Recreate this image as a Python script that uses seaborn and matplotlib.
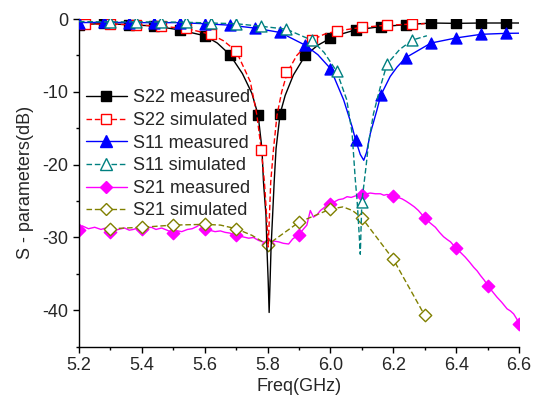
import matplotlib
matplotlib.use("Agg")
import matplotlib.pyplot as plt
from matplotlib.lines import Line2D
from matplotlib.ticker import MultipleLocator
import seaborn as sns
import pandas as pd

# ---------------- data ----------------
# S22 measured
s22m_mf = [5.20, 5.28, 5.36, 5.44, 5.52, 5.60, 5.68, 5.77, 5.84, 5.92, 6.00, 6.08, 6.16, 6.24, 6.32, 6.40, 6.48, 6.56]
s22m_md = [-0.8, -0.6, -0.8, -0.95, -1.5, -2.3, -4.9, -13.2, -13.0, -5.0, -2.65, -1.5, -1.05, -0.78, -0.55, -0.6, -0.55, -0.55]
s22m_lf = [5.20, 5.28, 5.36, 5.44, 5.52, 5.60, 5.64, 5.68, 5.72, 5.75, 5.77, 5.782, 5.787, 5.795, 5.798, 5.802, 5.805,
           5.808, 5.811, 5.816, 5.821, 5.827, 5.84, 5.856, 5.882, 5.92, 5.96, 6.00, 6.04, 6.08, 6.16, 6.24, 6.32, 6.40, 6.48, 6.56, 6.60]
s22m_ld = [-0.8, -0.6, -0.8, -0.95, -1.5, -2.3, -3.3, -4.9, -7.5, -10.2, -13.2, -17.8, -22.4, -27.0, -31.5, -36.0, -40.3,
           -36.0, -31.5, -27.0, -22.4, -17.8, -13.0, -10.5, -7.7, -5.0, -3.6, -2.65, -2.0, -1.5, -1.05, -0.78, -0.55, -0.6, -0.55, -0.55, -0.55]

# S22 simulated
s22s_mf = [5.22, 5.30, 5.38, 5.46, 5.54, 5.62, 5.70, 5.78, 5.86, 5.94, 6.02, 6.10, 6.18, 6.26]
s22s_md = [-0.7, -0.7, -0.8, -1.0, -1.3, -2.1, -4.4, -18.0, -7.3, -2.9, -1.65, -1.15, -0.85, -0.7]
s22s_lf = [5.20, 5.22, 5.30, 5.38, 5.46, 5.54, 5.62, 5.66, 5.70, 5.745, 5.766, 5.78, 5.79, 5.797, 5.802,
           5.806, 5.81, 5.819, 5.83, 5.845, 5.863, 5.893, 5.94, 5.98, 6.02, 6.10, 6.18, 6.26, 6.30]
s22s_ld = [-0.7, -0.7, -0.7, -0.8, -1.0, -1.3, -2.1, -3.0, -4.4, -8.6, -13.2, -18.0, -22.4, -27.0, -31.3,
           -27.0, -22.4, -17.8, -13.2, -10.0, -7.3, -5.0, -2.9, -2.1, -1.65, -1.15, -0.85, -0.7, -0.65]

# S11 measured
s11m_mf = [5.20, 5.28, 5.36, 5.44, 5.52, 5.60, 5.68, 5.76, 5.84, 5.92, 6.00, 6.08, 6.16, 6.24, 6.32, 6.40, 6.48, 6.56]
s11m_md = [-0.5, -0.45, -0.5, -0.5, -0.5, -0.65, -0.85, -1.25, -1.85, -3.6, -6.8, -16.6, -10.5, -5.3, -3.3, -2.6, -2.1, -1.97]
s11m_lf = [5.20, 5.28, 5.36, 5.44, 5.52, 5.60, 5.68, 5.76, 5.84, 5.92, 5.96, 6.00, 6.042, 6.069, 6.08, 6.095, 6.106,
           6.115, 6.127, 6.148, 6.16, 6.19, 6.212, 6.24, 6.32, 6.40, 6.48, 6.56, 6.60]
s11m_ld = [-0.5, -0.45, -0.5, -0.5, -0.5, -0.65, -0.85, -1.25, -1.85, -3.6, -4.9, -6.8, -11.1, -14.8, -16.6, -18.6, -19.4,
           -18.3, -15.7, -12.5, -10.5, -7.9, -6.6, -5.3, -3.3, -2.6, -2.1, -1.97, -1.95]

# S11 simulated
s11s_mf = [5.30, 5.38, 5.46, 5.54, 5.62, 5.70, 5.78, 5.86, 5.94, 6.02, 6.10, 6.18, 6.26]
s11s_md = [-0.4, -0.4, -0.4, -0.45, -0.55, -0.65, -1.0, -1.4, -2.9, -7.2, -25.1, -6.2, -2.9]
s11s_lf = [5.20, 5.30, 5.38, 5.46, 5.54, 5.62, 5.70, 5.78, 5.86, 5.94, 5.98, 6.02, 6.052, 6.069, 6.079, 6.085, 6.09, 6.095,
           6.10, 6.114, 6.121, 6.137, 6.159, 6.18, 6.22, 6.26, 6.307]
s11s_ld = [-0.35, -0.4, -0.4, -0.4, -0.45, -0.55, -0.65, -1.0, -1.4, -2.9, -4.6, -7.2, -11.1, -15.7, -22.0, -25.0, -28.5, -32.3,
           -25.1, -20.0, -17.1, -13.0, -9.3, -6.2, -4.2, -2.9, -2.3]

# S21 measured
s21m_mf = [5.20, 5.30, 5.40, 5.50, 5.60, 5.70, 5.80, 5.90, 6.00, 6.10, 6.20, 6.30, 6.40, 6.50, 6.60]
s21m_md = [-29.0, -29.3, -28.9, -29.4, -28.9, -29.7, -30.9, -29.6, -25.4, -24.1, -24.3, -27.3, -31.5, -36.6, -41.9]
s21m_lf = [5.20, 5.21, 5.23, 5.25, 5.27, 5.285, 5.30, 5.325, 5.345, 5.36, 5.373, 5.385, 5.40, 5.415, 5.43, 5.445,
           5.463, 5.48, 5.50, 5.515, 5.527, 5.545, 5.56, 5.575, 5.585, 5.60, 5.615, 5.633, 5.65, 5.665, 5.68, 5.70,
           5.72, 5.74, 5.755, 5.771, 5.785, 5.803, 5.82, 5.835, 5.85, 5.867, 5.88, 5.90, 5.915, 5.925, 5.936, 5.946,
           5.957, 5.968, 5.98, 5.989, 6.00, 6.013, 6.026, 6.04, 6.053, 6.066, 6.079, 6.09, 6.10, 6.115, 6.127, 6.143,
           6.159, 6.17, 6.18, 6.19, 6.20, 6.215, 6.228, 6.24, 6.254, 6.267, 6.28, 6.29, 6.30, 6.317, 6.334, 6.347,
           6.36, 6.372, 6.382, 6.39, 6.40, 6.415, 6.429, 6.443, 6.456, 6.467, 6.477, 6.49, 6.50, 6.515, 6.53, 6.545,
           6.562, 6.573, 6.583, 6.593, 6.60]
s21m_ld = [-28.9, -28.4, -28.8, -28.6, -28.9, -28.7, -29.2, -28.9, -28.7, -29.0, -28.9, -28.7, -28.9, -28.7, -28.6, -28.9,
           -28.7, -29.0, -29.4, -29.1, -29.2, -28.9, -28.8, -28.5, -28.2, -28.8, -29.0, -29.2, -29.1, -29.3, -29.4, -29.7,
           -29.9, -30.1, -30.0, -30.4, -30.6, -30.9, -30.5, -30.6, -30.8, -30.9, -30.2, -29.6, -28.8, -28.3, -26.3, -27.2,
           -26.9, -26.3, -25.9, -25.6, -25.4, -25.1, -24.8, -24.7, -24.4, -24.5, -24.3, -24.2, -24.1, -24.0, -23.9, -24.0,
           -24.0, -24.2, -24.1, -24.2, -24.3, -24.5, -24.7, -25.0, -25.4, -25.8, -26.3, -26.8, -27.3, -28.0, -28.6, -29.3,
           -29.9, -30.3, -30.6, -31.0, -31.5, -32.1, -32.7, -33.4, -34.1, -34.6, -35.2, -35.9, -36.6, -37.4, -38.2, -38.9,
           -39.8, -40.1, -40.5, -41.2, -41.9]

# S21 simulated
s21s_mf = [5.30, 5.40, 5.50, 5.60, 5.70, 5.80, 5.90, 6.00, 6.10, 6.20, 6.30]
s21s_md = [-28.8, -28.6, -28.3, -28.2, -28.8, -31.0, -27.9, -26.1, -27.3, -33.0, -40.7]
s21s_lf = [5.30, 5.40, 5.50, 5.60, 5.65, 5.70, 5.75, 5.80, 5.90, 6.00, 6.04, 6.07, 6.10, 6.20, 6.30]
s21s_ld = [-28.8, -28.6, -28.3, -28.2, -28.3, -28.8, -29.7, -31.0, -27.9, -26.1, -25.8, -26.3, -27.3, -33.0, -40.7]

labels = ["S22 measured", "S22 simulated", "S11 measured", "S11 simulated", "S21 measured", "S21 simulated"]
xticks = [5.2, 5.4, 5.6, 5.8, 6.0, 6.2, 6.4, 6.6]
yticks = [0, -10, -20, -30, -40]

# ---------------- style ----------------
sns.set_theme(style="ticks")
plt.rcParams["font.family"] = ["Liberation Sans", "DejaVu Sans"]
plt.rcParams["font.size"] = 13
plt.rcParams["axes.unicode_minus"] = False

fig = plt.figure(figsize=(5.39, 3.99), dpi=100)
ax = fig.add_axes([79 / 539, 1 - 346.7 / 399, 440 / 539, 327.7 / 399])

dash = (4, 2)
series = [
    # line f, line d, marker f, marker d, color, linestyle, marker, face, msize(pt^2), zorder
    (s21m_lf, s21m_ld, s21m_mf, s21m_md, "#FF00FF", "-", "D", "#FF00FF", 40, 2),
    (s21s_lf, s21s_ld, s21s_mf, s21s_md, "#808000", "--", "D", "white", 40, 3),
    (s22m_lf, s22m_ld, s22m_mf, s22m_md, "black", "-", "s", "black", 48, 4),
    (s22s_lf, s22s_ld, s22s_mf, s22s_md, "#FF0000", "--", "s", "white", 48, 5),
    (s11m_lf, s11m_ld, s11m_mf, s11m_md, "#0000FF", "-", "^", "#0000FF", 62, 6),
    (s11s_lf, s11s_ld, s11s_mf, s11s_md, "#008080", "--", "^", "white", 62, 7),
]

for lf, ld, mf, md, col, ls, mk, face, s, z in series:
    df_l = pd.DataFrame({"f": lf, "db": ld})
    df_m = pd.DataFrame({"f": mf, "db": md})
    sns.lineplot(data=df_l, x="f", y="db", ax=ax, color=col, linewidth=1.0, sort=False,
                 estimator=None, zorder=z)
    if ls == "--":
        ax.lines[-1].set_dashes(dash)
    sns.scatterplot(data=df_m, x="f", y="db", ax=ax, marker=mk, s=s, color=face,
                    edgecolor=col, linewidth=1.0, zorder=z + 0.5, clip_on=True)

ax.set_xlim(5.2, 6.6)
ax.set_ylim(-45, 0)
ax.set_xticks(xticks)
ax.set_xticklabels([f"{v:.1f}" for v in xticks])
ax.set_yticks(yticks)
ax.set_yticklabels([str(v) for v in yticks])
ax.xaxis.set_minor_locator(MultipleLocator(0.1))
ax.yaxis.set_minor_locator(MultipleLocator(5))
ax.tick_params(axis="both", which="major", direction="out", length=4, width=1, labelsize=13, color="black", pad=3.5)
ax.tick_params(axis="both", which="minor", direction="out", length=2.5, width=1, color="black")
for side in ["top", "right"]:
    ax.spines[side].set_visible(False)
for side in ["left", "bottom"]:
    ax.spines[side].set_color("black")
    ax.spines[side].set_linewidth(1.0)

ax.set_xlabel("Freq(GHz)", fontsize=13, labelpad=3)
ax.set_ylabel("S - parameters(dB)", fontsize=13, labelpad=6)

styles = [("black", "-", "s", "black"), ("#FF0000", "--", "s", "white"),
          ("#0000FF", "-", "^", "#0000FF"), ("#008080", "--", "^", "white"),
          ("#FF00FF", "-", "D", "#FF00FF"), ("#808000", "--", "D", "white")]
msz = {"s": 7, "^": 8, "D": 6.3}
handles = []
for (col, ls, mk, face), lab in zip(styles, labels):
    h = Line2D([], [], color=col, linestyle=ls, linewidth=1.0, marker=mk, markersize=msz[mk],
               markerfacecolor=face, markeredgecolor=col, markeredgewidth=1.0, label=lab)
    if ls == "--":
        h.set_dashes(dash)
    handles.append(h)
leg = ax.legend(handles=handles, loc="upper left", bbox_to_anchor=(0.015, 0.785), frameon=False,
                fontsize=13, handlelength=2.3, handletextpad=0.3, labelspacing=0.31,
                borderaxespad=0, borderpad=0)
leg.set_zorder(10)

fig.savefig("out.png", dpi=100, facecolor="white")
